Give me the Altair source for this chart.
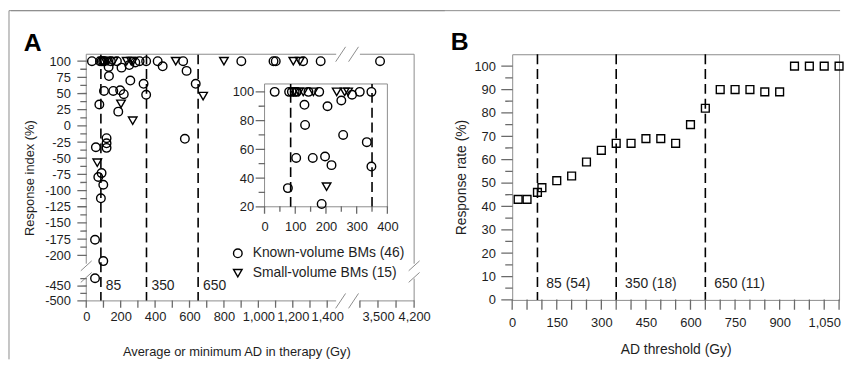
import altair as alt
import pandas as pd

# ---------------- values ----------------
KNOWN = "Known-volume BMs (46)"
SMALL = "Small-volume BMs (15)"

known_x = [33, 80, 89, 98, 105, 143, 178, 285, 310, 348, 415, 563, 901, 1088, 1101, 1260, 1362, 3540,
           444, 583, 636, 573, 333, 348, 256, 186, 103, 157, 197, 218, 130, 205, 132, 250, 76,
           56, 118, 118, 118, 89, 70, 99, 85, 51, 99, 51]
known_y = [100, 100, 100, 100, 100, 100, 100, 98, 100, 100, 100, 100, 100, 100, 100, 100, 100, 100,
           92, 85, 65, -20, 65, 48, 70, 22, 54, 54, 55, 49, 91, 90, 77, 94, 33,
           -33, -19, -27, -34, -73, -79, -91, -112, -176, -209, -424]
small_x = [95, 112, 126, 159, 235, 261, 272, 520, 800, 1203, 1241, 679, 202, 270, 64]
small_y = [100, 100, 100, 100, 100, 100, 100, 100, 100, 100, 100, 46, 34, 8, -57]

thresholds = [85, 350, 650]
thr_labels_a = ["85", "350", "650"]
thr_labels_b = ["85 (54)", "350 (18)", "650 (11)"]

b_x = [20, 50, 85, 100, 150, 200, 250, 300, 350, 400, 450, 500, 550, 600, 650, 700, 750, 800,
       850, 900, 950, 1000, 1050, 1100]
b_y = [43, 43, 46, 48, 51, 53, 59, 64, 67, 67, 69, 69, 67, 75, 82, 90, 90, 90,
       89, 89, 100, 100, 100, 100]

# tick values / labels
a_x_ticks = [0, 100, 200, 300, 400, 500, 600, 700, 800, 900, 1000, 1100, 1200, 1300, 1400,
             3150, 3500, 3850, 4200]
a_x_label_vals = [0, 200, 400, 600, 800, 1000, 1200, 1400, 3500, 4200]
a_x_labels = ["0", "200", "400", "600", "800", "1,000", "1,200", "1,400", "3,500", "4,200"]
a_y_label_vals = [100, 75, 50, 25, 0, -25, -50, -75, -100, -125, -150, -175, -200, -450, -500]
a_y_labels = ["100", "75", "50", "25", "0", "-25", "-50", "-75", "-100", "-125", "-150",
              "-175", "-200", "-450", "-500"]
a_y_minor = [87.5, 62.5, 37.5, 12.5, -12.5, -37.5, -62.5, -87.5, -112.5, -137.5, -162.5,
             -187.5, -425, -475]
inset_x_major = [0, 100, 200, 300, 400]
inset_x_minor = [50, 150, 250, 350]
inset_y_major = [20, 40, 60, 80, 100]
inset_y_minor = [30, 50, 70, 90]
b_x_ticks = [0, 50, 100, 150, 200, 250, 300, 350, 400, 450, 500, 550, 600, 650, 700, 750, 800,
             850, 900, 950, 1000, 1050, 1100]
b_x_label_vals = [0, 150, 300, 450, 600, 750, 900, 1050]
b_x_labels = ["0", "150", "300", "450", "600", "750", "900", "1,050"]
b_y_major = [0, 10, 20, 30, 40, 50, 60, 70, 80, 90, 100]
b_y_minor = [5, 15, 25, 35, 45, 55, 65, 75, 85, 95]

# ---------------- broken-axis mapping (panel A) ----------------
X_SPLIT = 1450
X_END, X_END_DISP, X_HI_K = 4200, 1905, 0.3
Y_SPLIT = -215
Y_LO_REF, Y_LO_DISP, Y_LO_K = -450, -247.5, 0.46


def xd(v):
    return v if v <= X_SPLIT else round(X_END_DISP - (X_END - v) * X_HI_K, 4)


def yd(v):
    return v if v >= Y_SPLIT else round(Y_LO_DISP + (v - Y_LO_REF) * Y_LO_K, 4)


A_XMIN, A_XMAX = 0, X_END_DISP
A_YMIN, A_YMAX = yd(-500), 110.7
X_GAP = (1452, xd(3150))
Y_GAP = (-213, yd(-425))
X_SLASH = [1478, 1553]
Y_SLASH = [-216.3, -234.2]

INSET_X = (0, 400)
INSET_Y = (20, 105.5)
B_X = (0, 1100)
B_Y = (0, 105.1)

GRAY = "#8c8c8c"
TICK = "#6a6a6a"
INK = "#1e1e1e"
FONT = "Liberation Sans"


def pick(pairs):
    e = "''"
    for d, lab in reversed(pairs):
        e = f"(abs(datum.value - ({d})) < 0.001 ? '{lab}' : {e})"
    return e


# ---------------- tables ----------------
dfA = pd.DataFrame({
    "x": known_x + small_x,
    "y": known_y + small_y,
    "group": [KNOWN] * len(known_x) + [SMALL] * len(small_x),
})
dfA["xd"] = [xd(v) for v in dfA["x"]]
dfA["yd"] = [yd(v) for v in dfA["y"]]
dfInset = dfA[(dfA["x"] <= INSET_X[1]) & (dfA["y"] >= INSET_Y[0])]

dfThrA = pd.DataFrame({"t": thresholds, "label": thr_labels_a, "ty": yd(-450)})
dfThrInset = pd.DataFrame({"t": [t for t in thresholds if t <= INSET_X[1]]})
dfThrInset["y0"] = INSET_Y[0]
dfThrInset["y1"] = INSET_Y[1]
dfThrB = pd.DataFrame({"t": thresholds, "label": thr_labels_b, "ty": 7})
dfB = pd.DataFrame({"x": b_x, "y": b_y})

seg = []
for yv in (A_YMAX, A_YMIN):
    seg.append(dict(x=A_XMIN, x2=X_GAP[0], y=yv, y2=yv))
    seg.append(dict(x=X_GAP[1], x2=A_XMAX, y=yv, y2=yv))
for xv in (A_XMIN, A_XMAX):
    seg.append(dict(x=xv, x2=xv, y=A_YMAX, y2=Y_GAP[0]))
    seg.append(dict(x=xv, x2=xv, y=Y_GAP[1], y2=A_YMIN))
dfSeg = pd.DataFrame(seg)
dfSlashX = pd.DataFrame([dict(x=s, y=yv) for s in X_SLASH for yv in (A_YMAX, A_YMIN)])
dfSlashY = pd.DataFrame([dict(x=xv, y=s) for s in Y_SLASH for xv in (A_XMIN, A_XMAX)])
dfInsetBox = pd.DataFrame([dict(x=INSET_X[0], x2=INSET_X[1], y=INSET_Y[0], y2=INSET_Y[1])])
one = pd.DataFrame({"k": [0]})


def ticks_df(vals, base):
    return pd.DataFrame({"v": vals, "b": [base] * len(vals)})


NOTICK = dict(ticks=False, tickSize=0, domain=False, labelOverlap=False)

# ---------------- panel A ----------------
sx = alt.Scale(domain=[A_XMIN, A_XMAX], nice=False, zero=False)
sy = alt.Scale(domain=[A_YMIN, A_YMAX], nice=False, zero=False)
shape_scale = alt.Scale(domain=[KNOWN, SMALL], range=["circle", "triangle-down"])

ax_x = alt.Axis(
    values=[xd(v) for v in a_x_ticks],
    labelExpr=pick([(xd(v), l) for v, l in zip(a_x_label_vals, a_x_labels)]),
    title="Average or minimum AD in therapy (Gy)", titleX=151.5, titleY=51,
    titleBaseline="middle", titleFontSize=13, labelPadding=10, labelFlush=False, **NOTICK)
ax_y = alt.Axis(
    values=[yd(v) for v in a_y_label_vals + a_y_minor],
    labelExpr=pick([(yd(v), l) for v, l in zip(a_y_label_vals, a_y_labels)]),
    title="Response index (%)", titleX=-57, titleY=124.5, titleBaseline="middle",
    titleFontSize=13, labelPadding=16, **NOTICK)
legend = alt.Legend(title=None, orient="none", legendX=146, legendY=194, labelFontSize=14,
                    symbolSize=75, symbolStrokeWidth=1.4, symbolStrokeColor="black",
                    labelColor=INK, labelFont=FONT, rowPadding=5, padding=0, labelOffset=8)


def AX(f):
    return alt.X(f, scale=sx, axis=ax_x)


def AY(f):
    return alt.Y(f, scale=sy, axis=ax_y)


def hticks(df, X, Y, length):
    # horizontal tick marks pointing left from a y axis
    return alt.Chart(df).mark_rule(color=TICK, strokeWidth=1.3, xOffset=-length, x2Offset=0.5,
                                   yOffset=0.01, y2Offset=-0.01).encode(
        x=X("b:Q"), x2=alt.X2("b"), y=Y("v:Q"), y2=alt.Y2("v"))


def vticks(df, X, Y, length):
    # vertical tick marks pointing down from an x axis
    return alt.Chart(df).mark_rule(color=TICK, strokeWidth=1.3, yOffset=-0.5, y2Offset=length,
                                   xOffset=0.01, x2Offset=-0.01).encode(
        x=X("v:Q"), x2=alt.X2("v"), y=Y("b:Q"), y2=alt.Y2("b"))


pts = alt.Chart(dfA).mark_point(filled=False, color="black", size=75, strokeWidth=1.4, opacity=1).encode(
    x=AX("xd:Q"), y=AY("yd:Q"),
    shape=alt.Shape("group:N", scale=shape_scale, legend=legend),
)
dashA = alt.Chart(dfThrA).mark_rule(color="black", strokeWidth=1.6, strokeDash=[10, 5]).encode(
    x=AX("t:Q"))
textA = alt.Chart(dfThrA).mark_text(align="left", baseline="middle", dx=5, fontSize=14, color=INK).encode(
    x=AX("t:Q"), y=AY("ty:Q"), text="label:N")
borders = alt.Chart(dfSeg).mark_rule(color=GRAY, strokeWidth=1).encode(
    x=AX("x:Q"), x2="x2:Q", y=AY("y:Q"), y2="y2:Q")
slashX = alt.Chart(dfSlashX).mark_rule(color=GRAY, strokeWidth=1, xOffset=-5, x2Offset=5,
                                      yOffset=7.5, y2Offset=-7.5).encode(
    x=AX("x:Q"), x2=alt.X2("x"), y=AY("y:Q"), y2=alt.Y2("y"))
slashY = alt.Chart(dfSlashY).mark_rule(color=GRAY, strokeWidth=1, xOffset=-5.5, x2Offset=5.5,
                                      yOffset=5, y2Offset=-5).encode(
    x=AX("x:Q"), x2=alt.X2("x"), y=AY("y:Q"), y2=alt.Y2("y"))
tA_y1 = hticks(ticks_df([yd(v) for v in a_y_label_vals], A_XMIN), AX, AY, 9)
tA_y2 = hticks(ticks_df([yd(v) for v in a_y_minor], A_XMIN), AX, AY, 6)
tA_x = vticks(ticks_df([xd(v) for v in a_x_ticks], A_YMIN), AX, AY, 7)
frameV = alt.Chart(one).mark_rule(color=GRAY, strokeWidth=1).encode(
    x=alt.value(-78), y=alt.value(-44), y2=alt.value(308))
frameHA = alt.Chart(one).mark_rule(color=GRAY, strokeWidth=1).encode(
    x=alt.value(-78), x2=alt.value(362), y=alt.value(-44))
letterA = alt.Chart(pd.DataFrame({"label": ["A"]})).mark_text(
    align="left", baseline="alphabetic", fontSize=25, fontWeight="bold", color="black").encode(
    x=alt.value(-63), y=alt.value(-3), text="label:N")

main_layer = alt.layer(pts, dashA, textA, borders, slashX, slashY, tA_y1, tA_y2, tA_x,
                       frameV, frameHA, letterA)

# inset
ix = alt.Scale(domain=list(INSET_X), range=[180, 304], nice=False, zero=False)
iy = alt.Scale(domain=list(INSET_Y), range=[154, 30], nice=False, zero=False)
iax = alt.Axis(values=inset_x_major + inset_x_minor, format="d",
               labelExpr="datum.value % 100 == 0 ? datum.label : ''",
               orient="bottom", offset=-95, title="", labelPadding=14, labelFlush=False, **NOTICK)
iay = alt.Axis(values=inset_y_major + inset_y_minor, format="d",
               labelExpr="datum.value % 20 == 0 ? datum.label : ''",
               orient="left", offset=-180, title="", labelPadding=11, **NOTICK)


def IX(f):
    return alt.X(f, scale=ix, axis=iax)


def IY(f):
    return alt.Y(f, scale=iy, axis=iay)


inset_box = alt.Chart(dfInsetBox).mark_rect(fill="white", stroke=GRAY, strokeWidth=1).encode(
    x=IX("x:Q"), x2="x2:Q", y=IY("y:Q"), y2="y2:Q")
inset_dash = alt.Chart(dfThrInset).mark_rule(color="black", strokeWidth=1.6, strokeDash=[10, 5]).encode(
    x=IX("t:Q"), y=IY("y0:Q"), y2="y1:Q")
tI_x1 = vticks(ticks_df(inset_x_major, INSET_Y[0]), IX, IY, 7)
tI_x2 = vticks(ticks_df(inset_x_minor, INSET_Y[0]), IX, IY, 5)
tI_y1 = hticks(ticks_df(inset_y_major, INSET_X[0]), IX, IY, 9)
tI_y2 = hticks(ticks_df(inset_y_minor, INSET_X[0]), IX, IY, 6)
inset_pts = alt.Chart(dfInset).mark_point(filled=False, color="black", size=75, strokeWidth=1.4,
                                          opacity=1).encode(
    x=IX("x:Q"), y=IY("y:Q"), shape=alt.Shape("group:N", scale=shape_scale, legend=legend))
inset_layer = alt.layer(inset_box, inset_dash, tI_x1, tI_x2, tI_y1, tI_y2, inset_pts)

panelA = alt.layer(main_layer, inset_layer).resolve_scale(
    x="independent", y="independent").properties(width=331, height=249)

# ---------------- panel B ----------------
bx = alt.Scale(domain=list(B_X), nice=False, zero=False)
by = alt.Scale(domain=list(B_Y), nice=False, zero=False)
bax = alt.Axis(values=b_x_ticks, labelExpr=pick(list(zip(b_x_label_vals, b_x_labels))),
               title="AD threshold (Gy)", titleFontSize=14, titleY=50, titleBaseline="middle",
               labelPadding=17, labelFlush=False, **NOTICK)
bay = alt.Axis(values=b_y_major + b_y_minor, format="d",
               labelExpr="datum.value % 10 == 0 ? datum.label : ''",
               title="Response rate (%)", titleFontSize=14, titleX=-51, titleY=124,
               titleBaseline="middle", labelPadding=17, **NOTICK)


def BX(f):
    return alt.X(f, scale=bx, axis=bax)


def BY(f):
    return alt.Y(f, scale=by, axis=bay)


ptsB = alt.Chart(dfB).mark_point(shape="square", filled=False, color="black", size=62,
                                 strokeWidth=1.4, opacity=1).encode(x=BX("x:Q"), y=BY("y:Q"))
dashB = alt.Chart(dfThrB).mark_rule(color="black", strokeWidth=1.6, strokeDash=[10, 5]).encode(
    x=BX("t:Q"))
textB = alt.Chart(dfThrB).mark_text(align="left", baseline="middle", dx=9, fontSize=14, color=INK).encode(
    x=BX("t:Q"), y=BY("ty:Q"), text="label:N")
tB_x = vticks(ticks_df(b_x_ticks, B_Y[0]), BX, BY, 10)
tB_y1 = hticks(ticks_df(b_y_major, B_X[0]), BX, BY, 11)
tB_y2 = hticks(ticks_df(b_y_minor, B_X[0]), BX, BY, 7)
# top edge of the figure frame, drawn across the whole width from panel B
frameHB = alt.Chart(one).mark_rule(color=GRAY, strokeWidth=1).encode(
    x=alt.value(-506), x2=alt.value(331), y=alt.value(-44))
letterB = alt.Chart(pd.DataFrame({"label": ["B"]})).mark_text(
    align="left", baseline="alphabetic", fontSize=25, fontWeight="bold", color="black").encode(
    x=alt.value(-62), y=alt.value(-4), text="label:N")

panelB = alt.layer(ptsB, dashB, textB, tB_x, tB_y1, tB_y2, frameHB, letterB).properties(
    width=330, height=248, view=alt.ViewBackground(stroke=GRAY, strokeWidth=1))

chart = alt.hconcat(panelA, panelB, spacing=-440).properties(padding=0).configure(
    font=FONT).configure_view(strokeWidth=0).configure_axis(
    grid=False, labelFont=FONT, labelFontSize=13, labelColor=INK, titleFont=FONT,
    titleColor=INK, titleFontWeight="normal", domainColor=GRAY,
    labelFlush=False, labelOverlap=False)

chart.save("out.html", embed_options={"renderer": "svg", "actions": False})
